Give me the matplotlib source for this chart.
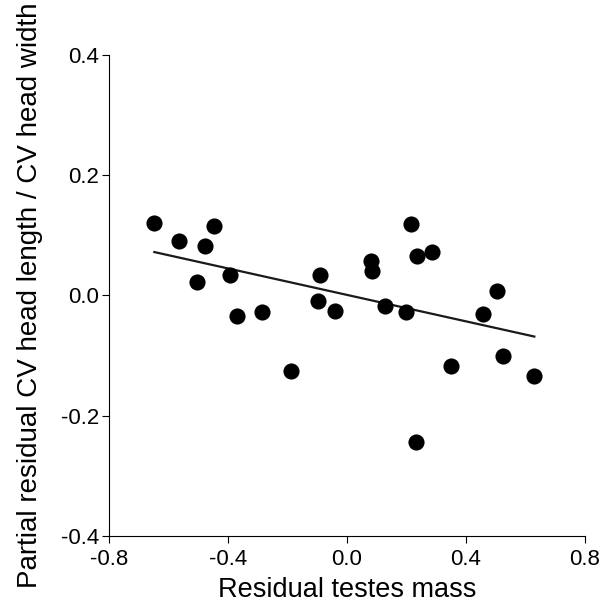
"""Scatter: partial residual CV head length / CV head width vs residual testes mass."""
import matplotlib
matplotlib.use("Agg")
import matplotlib.pyplot as plt
import numpy as np

plt.rcParams["font.family"] = ["Liberation Sans", "DejaVu Sans"]

testes = [-0.647, -0.563, -0.476, -0.445, -0.503, -0.392, -0.368, -0.284, -0.187,
          -0.089, -0.096, -0.039, 0.082, 0.086, 0.129, 0.200, 0.217, 0.237,
          0.287, 0.234, 0.351, 0.459, 0.503, 0.526, 0.630]
cv_ratio = [0.120, 0.091, 0.083, 0.116, 0.022, 0.034, -0.034, -0.028, -0.125,
            0.034, -0.010, -0.026, 0.058, 0.041, -0.017, -0.028, 0.118, 0.065,
            0.072, -0.243, -0.117, -0.030, 0.007, -0.101, -0.134]
fit_slope = -0.110
fit_intercept = 0.001

xticks = [-0.8, -0.4, 0.0, 0.4, 0.8]
yticks = [-0.4, -0.2, 0.0, 0.2, 0.4]

fig = plt.figure(figsize=(6.08, 6.03), dpi=100)
fig.patch.set_facecolor("white")
ax = fig.add_axes([0.179, 0.111, 0.783, 0.798])

ax.scatter(testes, cv_ratio, s=135, color="black", zorder=3, linewidths=0)
fx = np.array([min(testes), max(testes)])
ax.plot(fx, fit_intercept + fit_slope * fx, color="#1a1a1a", lw=1.6, zorder=2)

ax.set_xlim(-0.8, 0.8)
ax.set_ylim(-0.4, 0.4)
ax.set_xticks(xticks)
ax.set_xticklabels([f"{v:.1f}" for v in xticks])
ax.set_yticks(yticks)
ax.set_yticklabels([f"{v:.1f}" for v in yticks])
ax.tick_params(direction="out", length=5, width=0.8, labelsize=16)
ax.tick_params(axis="x", pad=4)
ax.tick_params(axis="y", pad=2)

for side in ("top", "right"):
    ax.spines[side].set_visible(False)
for side in ("left", "bottom"):
    ax.spines[side].set_linewidth(0.8)

ax.set_xlabel("Residual testes mass", fontsize=19.5, labelpad=5)
ax.set_ylabel("Partial residual CV head length / CV head width", fontsize=20, labelpad=13)

plt.savefig("out.png", dpi=100, facecolor="white")
